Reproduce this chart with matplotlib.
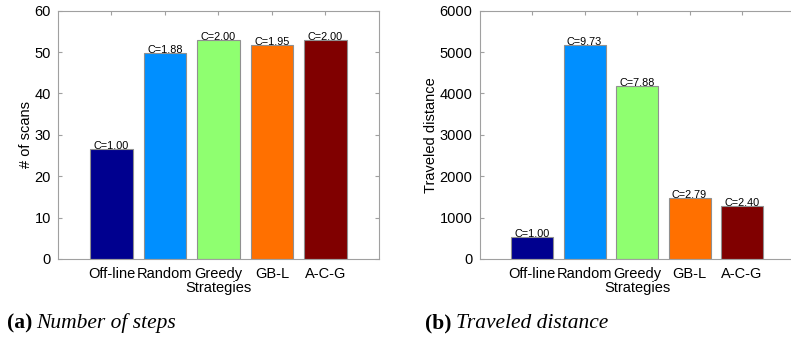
import matplotlib
matplotlib.use("Agg")
import matplotlib.pyplot as plt

strategies = ["Off-line", "Random", "Greedy", "GB-L", "A-C-G"]
colors = ["#00008F", "#008FFF", "#8FFF70", "#FF7000", "#800000"]

scans = [26.5, 49.8, 53.0, 51.7, 53.0]
scan_ratio = ["1.00", "1.88", "2.00", "1.95", "2.00"]

distance = [532, 5176, 4192, 1484, 1277]
distance_ratio = ["1.00", "9.73", "7.88", "2.79", "2.40"]

plt.rcParams["font.family"] = ["Liberation Sans", "DejaVu Sans"]

fig = plt.figure(figsize=(7.91, 3.40), dpi=100)
W, H = 791.0, 340.0

spine_col = "#a0a0a0"


def panel(rect, values, ratios, ylim, yticks, ylabel):
    ax = fig.add_axes(rect)
    x = list(range(1, len(values) + 1))
    ax.bar(x, values, width=0.8, color=colors, edgecolor="#909090", linewidth=0.8, zorder=2)
    for xi, v, r in zip(x, values, ratios):
        ax.text(xi, v, "C=" + r, ha="center", va="baseline", fontsize=7.8, zorder=3)
    ax.set_xlim(0, 6)
    ax.set_ylim(*ylim)
    ax.set_yticks(yticks)
    ax.set_xticks(x)
    ax.set_xticklabels(strategies, fontsize=10.5)
    ax.tick_params(axis="y", labelsize=10.5)
    ax.tick_params(direction="in", length=3, color=spine_col, top=True, right=True, pad=5)
    ax.tick_params(axis="x", pad=6)
    for s in ax.spines.values():
        s.set_color(spine_col)
        s.set_linewidth(0.8)
    ax.set_xlabel("Strategies", fontsize=10.5, labelpad=0)
    ax.set_ylabel(ylabel, fontsize=10.5, labelpad=1.5)
    return ax


panel([58 / W, (H - 259) / H, 321 / W, 248.3 / H], scans, scan_ratio,
      (0, 60), range(0, 61, 10), "# of scans")
panel([479.5 / W, (H - 259) / H, 315 / W, 248.3 / H], distance, distance_ratio,
      (0, 6000), range(0, 6001, 1000), "Traveled distance")

serif = ["Liberation Serif", "DejaVu Serif"]
for x0, tag, title in [(7, "(a)", "Number of steps"), (425, "(b)", "Traveled distance")]:
    t = fig.text(x0 / W, 1 - 328 / H, tag, fontsize=15.5, fontweight="bold", family=serif, va="baseline")
    fig.canvas.draw()
    bb = t.get_window_extent()
    fig.text((bb.x1 + 4) / W, 1 - 328 / H, title, fontsize=15.5, style="italic", family=serif, va="baseline")

fig.savefig("out.png", dpi=100)
